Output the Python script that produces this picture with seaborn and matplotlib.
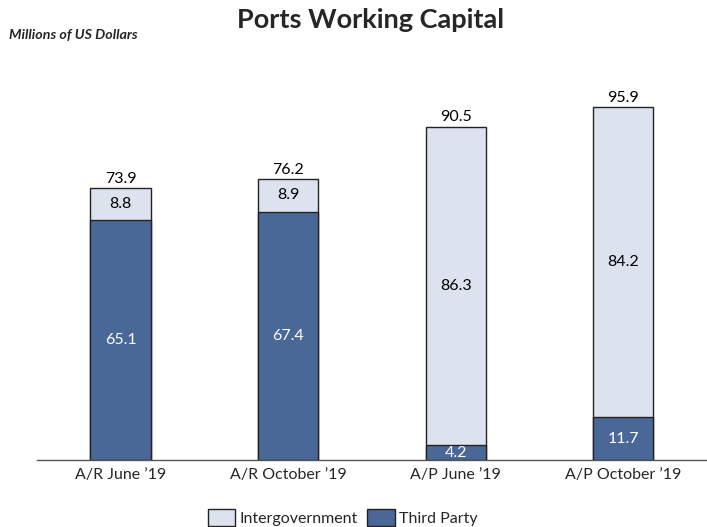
import pandas as pd
import matplotlib.pyplot as plt
import seaborn as sns
from matplotlib.patches import Patch

categories = ["A/R June \u201919", "A/R October \u201919", "A/P June \u201919", "A/P October \u201919"]
third_party = [65.1, 67.4, 4.2, 11.7]
intergovernment = [8.8, 8.9, 86.3, 84.2]
totals = [73.9, 76.2, 90.5, 95.9]

LIGHT = "#dde3ee"
DARK = "#4a6897"

sns.set_theme(style="white")
plt.rcParams["font.family"] = ["Lato", "DejaVu Sans"]

df = pd.DataFrame({
    "Category": categories,
    "Third Party": third_party,
    "Intergovernment": intergovernment,
    "Total": totals,
})

fig = plt.figure(figsize=(7.07, 5.27), dpi=100)
ax = fig.add_axes([0.052, 0.127, 0.948, 0.72])

sns.barplot(data=df, x="Category", y="Total", color=LIGHT, width=0.36,
            edgecolor="#222222", linewidth=1, ax=ax, saturation=1)
sns.barplot(data=df, x="Category", y="Third Party", color=DARK, width=0.36,
            edgecolor="#222222", linewidth=1, ax=ax, saturation=1)

for i, (tp, ig, tot) in enumerate(zip(third_party, intergovernment, totals)):
    ax.text(i, tp / 2 if tp > 8 else tp / 2 - 0.3, f"{tp}", ha="center", va="center",
            color="white", fontsize=11.5)
    ax.text(i, tp + ig / 2, f"{ig}", ha="center", va="center",
            color="black", fontsize=11.5)
    ax.text(i, tot + 0.6, f"{tot}", ha="center", va="bottom",
            color="black", fontsize=11.5)

ax.set_xlim(-0.5, 3.5)
ax.set_ylim(0, 103)
ax.set_xlabel("")
ax.set_ylabel("")
ax.set_yticks([])
ax.tick_params(axis="x", length=0, labelsize=11.5, pad=6)
for side in ["left", "right", "top"]:
    ax.spines[side].set_visible(False)
ax.spines["bottom"].set_color("#555555")
ax.spines["bottom"].set_linewidth(1)

fig.text(0.524, 0.962, "Ports Working Capital", ha="center", va="center",
         fontsize=19.5, fontweight="bold")
fig.text(0.013, 0.934, "Millions of US Dollars", ha="left", va="center",
         fontsize=10.3, fontweight="bold", style="italic")

handles = [Patch(facecolor=LIGHT, edgecolor="#222222", label="Intergovernment"),
           Patch(facecolor=DARK, edgecolor="#222222", label="Third Party")]
fig.legend(handles=handles, loc="center", bbox_to_anchor=(0.485, 0.018),
           ncol=2, frameon=False, fontsize=11.5, handlelength=1.7, handleheight=1.3,
           columnspacing=0.6, handletextpad=0.3)

fig.savefig("out.png", dpi=100)
